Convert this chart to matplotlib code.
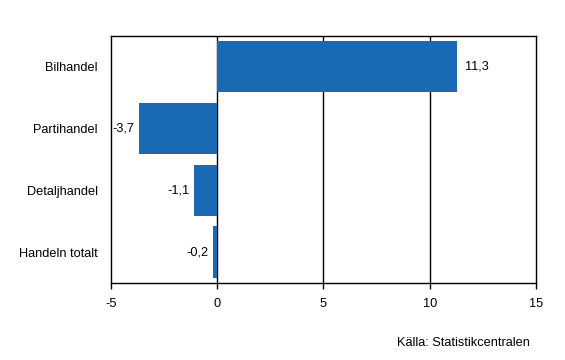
import matplotlib
matplotlib.use("Agg")
import matplotlib.pyplot as plt

plt.rcParams['font.family'] = ['Liberation Sans', 'DejaVu Sans']

categories = ["Handeln totalt", "Detaljhandel", "Partihandel", "Bilhandel"]
values = [-0.2, -1.1, -3.7, 11.3]
xticks = [-5, 0, 5, 10, 15]

fig = plt.figure(figsize=(5.65, 3.6), dpi=100)
ax = fig.add_axes([0.1965, 0.214, 0.752, 0.686])

ax.barh(range(len(categories)), values, height=0.83, color="#1a69b3", zorder=3)
ax.set_xlim(-5, 15)
ax.set_ylim(-0.5, len(categories) - 0.5)
ax.set_yticks(range(len(categories)))
ax.set_yticklabels(categories, fontsize=9.2)
ax.tick_params(axis="y", length=0, pad=9.5)
ax.set_xticks(xticks)
ax.set_xticklabels([str(t) for t in xticks], fontsize=9.2)
ax.tick_params(axis="x", direction="out", length=4, width=1, pad=7)

for t in [0, 5, 10]:
    ax.axvline(t, color="black", lw=1, zorder=2)

for s in ax.spines.values():
    s.set_linewidth(1)
    s.set_color("black")

# value labels, decimal comma
for i, v in enumerate(values):
    lab = ("%.1f" % v).replace(".", ",")
    if v >= 0:
        ax.text(v + 0.38, i, lab, va="center", ha="left", fontsize=9.2)
    else:
        ax.text(v - 0.2, i, lab, va="center", ha="right", fontsize=9.2)

fig.text(0.937, 0.047, "Källa: Statistikcentralen", ha="right", va="center", fontsize=9.2)

fig.savefig("out.png", dpi=100)
